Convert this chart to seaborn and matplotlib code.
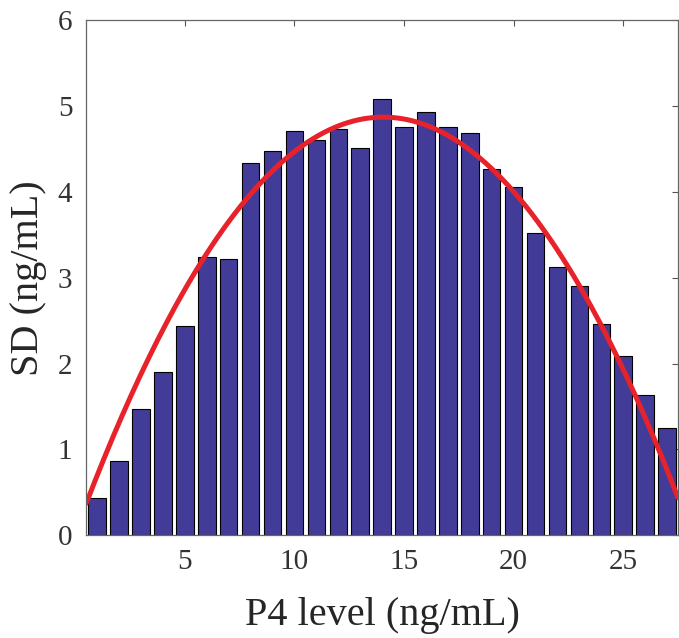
import numpy as np
import pandas as pd
import matplotlib
matplotlib.use("Agg")
import matplotlib.pyplot as plt
import seaborn as sns

# P4 level bins (ng/mL) and SD of each bin
p4_level = list(range(1, 28))
sd_values = [0.43, 0.87, 1.47, 1.90, 2.44, 3.24, 3.22, 4.34, 4.48, 4.71,
             4.60, 4.73, 4.51, 5.08, 4.76, 4.93, 4.76, 4.68, 4.27, 4.06,
             3.52, 3.12, 2.90, 2.46, 2.09, 1.63, 1.25]

# quadratic fit shown in the figure (vertex form)
fit_vertex_x = 14.05
fit_vertex_y = 4.87
fit_curv = 0.0245

x_ticks = [5, 10, 15, 20, 25]
y_ticks = [0, 1, 2, 3, 4, 5, 6]

bar_color = "#423c98"
fit_color = "#e8222a"

df = pd.DataFrame({"P4": p4_level, "SD": sd_values})

xs = np.linspace(0.5, 27.5, 200)
fit = pd.DataFrame({"P4": xs,
                    "SD": fit_vertex_y - fit_curv * (xs - fit_vertex_x) ** 2})

sns.set_style("white")
plt.rcParams["font.family"] = ["Liberation Serif", "DejaVu Serif"]

fig = plt.figure(figsize=(6.79, 6.38), dpi=100)
ax = fig.add_axes([0.127, 0.161, 0.8715, 0.8075])

sns.barplot(data=df, x="P4", y="SD", native_scale=True, width=0.8,
            color=bar_color, saturation=1, edgecolor="black", linewidth=0.8,
            ax=ax)
sns.lineplot(data=fit, x="P4", y="SD", color=fit_color, linewidth=3.6, ax=ax)

ax.set_xlim(0.5, 27.5)
ax.set_ylim(0, 6)
ax.set_xticks(x_ticks)
ax.set_yticks(y_ticks)
ax.tick_params(direction="in", length=4, width=0.8, colors="#555555",
               labelcolor="#333333", labelsize=21, top=True, right=True,
               pad=10)
for s in ax.spines.values():
    s.set_color("#666666")
    s.set_linewidth(0.9)

ax.set_xlabel("P4 level (ng/mL)", fontsize=29, labelpad=16)
ax.set_ylabel("SD (ng/mL)", fontsize=29, labelpad=8)

fig.savefig("out.png", dpi=100)
plt.close(fig)
